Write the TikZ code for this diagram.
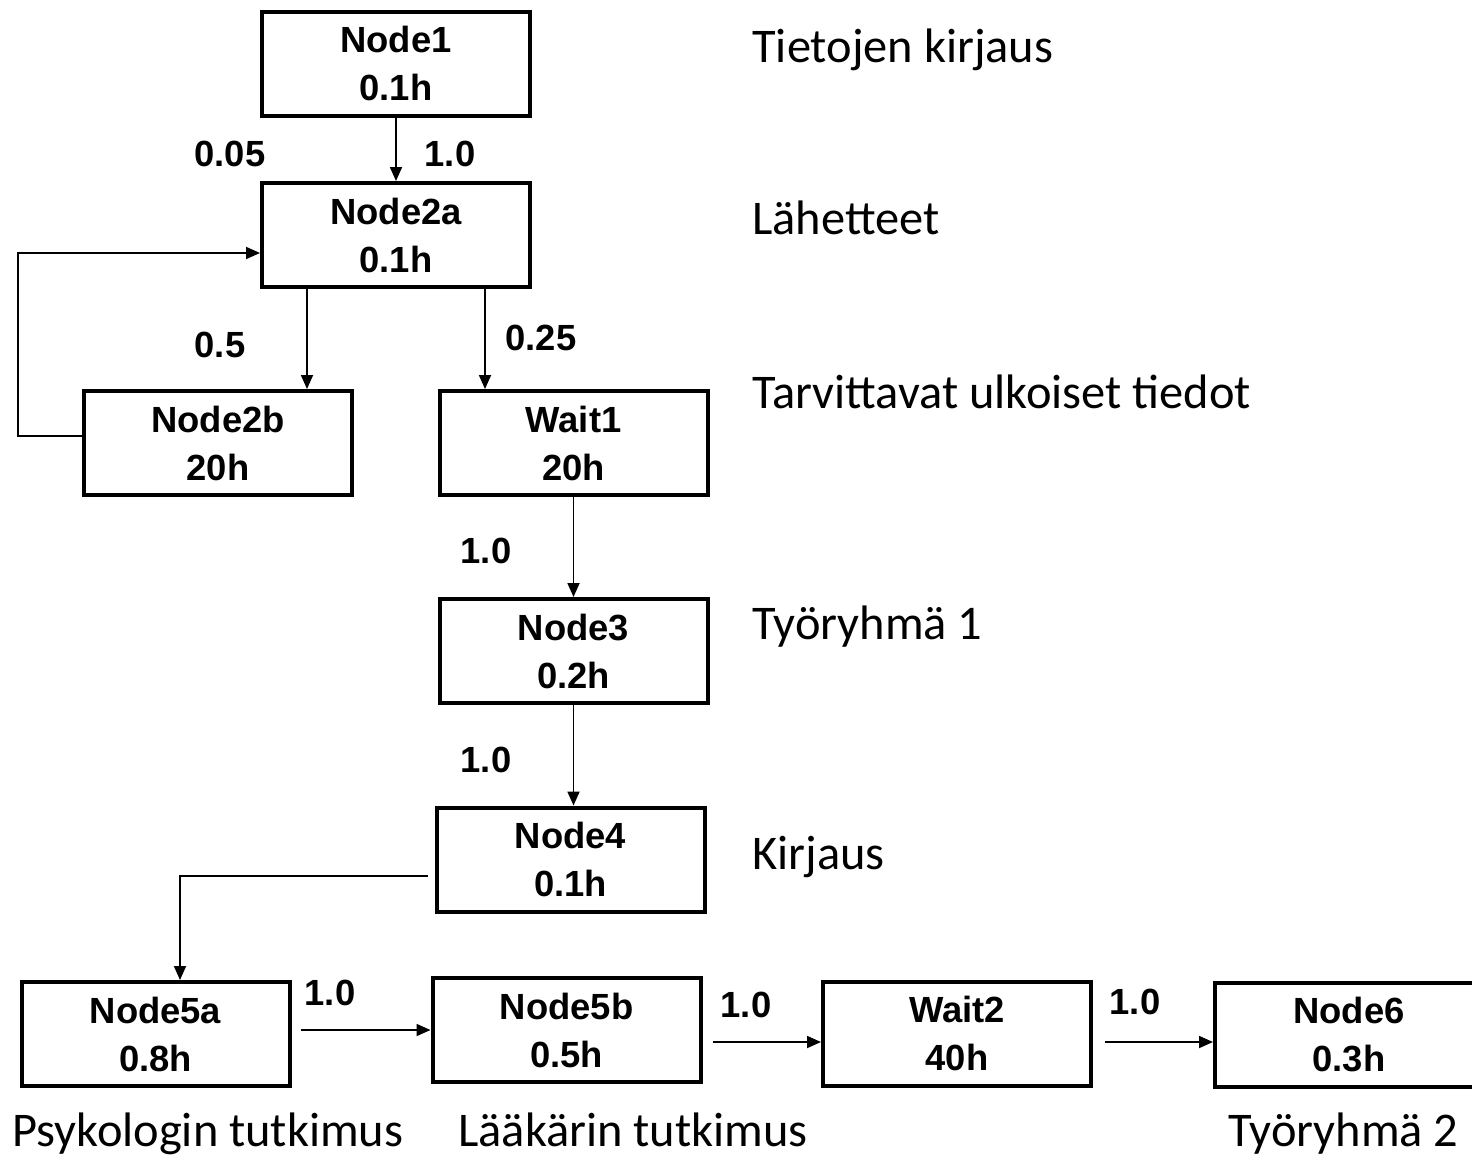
\documentclass[tikz,border=0pt]{standalone}
\usepackage{fontspec}
\setmainfont{Liberation Sans}
\newfontfamily\lblfont{Carlito}
\usetikzlibrary{arrows.meta,calc}
\begin{document}
\begin{tikzpicture}[x=0.5pt,y=-0.5pt,
  box/.style={draw,line width=2pt,minimum width=134pt,minimum height=52pt,inner sep=0pt,
    align=center,font=\fontsize{18.2}{24}\selectfont\bfseries},
  prob/.style={inner sep=0pt,font=\fontsize{18.2}{22}\selectfont\bfseries},
  side/.style={anchor=base west,inner sep=0pt,font=\fontsize{24.2}{28}\selectfont\lblfont},
  arr/.style={line width=0.9pt,-{Triangle[length=7pt,width=6pt]}},
  conn/.style={line width=0.9pt}]
\useasboundingbox (0,0) rectangle (1472,1157);
% boxes
\node[box] (n1)  at (396,63.5)   {Node1\\0.1h};
\node[box] (n2a) at (396,235)    {Node2a\\0.1h};
\node[box] (n2b) at (218,443)    {Node2b\\20h};
\node[box] (w1)  at (573.5,443)  {Wait1\\20h};
\node[box] (n3)  at (573.5,651)  {Node3\\0.2h};
\node[box] (n4)  at (570.5,859.5){Node4\\0.1h};
\node[box] (n5a) at (155.5,1034) {Node5a\\0.8h};
\node[box] (n5b) at (566.5,1030) {Node5b\\0.5h};
\node[box] (w2)  at (957,1033.5) {Wait2\\40h};
\node[box] (n6)  at (1349,1034.5){Node6\\0.3h};
% connectors
\draw[arr] (n1) -- (n2a);
\draw[arr] ([xshift=-44.5pt]n2a.south) -- ([xshift=-44.5pt]n2a.south |- n2b.north);
\draw[arr] ([xshift=44.5pt]n2a.south) -- ([xshift=44.5pt]n2a.south |- w1.north);
\draw[arr] ([xshift=2pt,yshift=3.5pt]n2b.west) -- ++(-34pt,0) |- ([yshift=-9pt]n2a.west);
\draw[arr] (w1) -- (n3);
\draw[arr] (n3.south) -- (n3.south |- n4.north);
\draw[arr] ([xshift=-3.5pt,yshift=-8.25pt]n4.west) -| ([xshift=12.25pt]n5a.north);
\draw[arr] ($(n5a.east |- n5b.west)+(4.5pt,0)$) -- (n5b.west);
\draw[arr] ($([yshift=-4.25pt]w2.west -| n5b.east)+(5pt,0)$) -- ([yshift=-4.25pt]w2.west);
\draw[arr] ($([yshift=-4.25pt]w2.east)+(6pt,0)$) -- ([yshift=-4.25pt]w2.east -| n6.west);
% probabilities
\node[prob] (p1) at (230,154) {0.05};
\node[prob] (p2) at (450,154) {1.0};
\node[prob] (p3) at (220,345) {0.5};
\node[prob] (p4) at (541,338) {0.25};
\node[prob] (p5) at (486,551) {1.0};
\node[prob] (p6) at (486,760) {1.0};
\node[prob] (p7) at (330,993) {1.0};
\node[prob] (p8) at (746,1005) {1.0};
\node[prob] (p9) at (1135,1002) {1.0};
% side labels
\node[side] (s1) at (752,62)  {Tietojen kirjaus};
\node[side] (s2) at (752,234) {Lähetteet};
\node[side] (s3) at (752,408) {Tarvittavat ulkoiset tiedot};
\node[side] (s4) at (752,639) {Työryhmä 1};
\node[side] (s5) at (752,869) {Kirjaus};
\node[side] (s6) at (12,1146)  {Psykologin tutkimus};
\node[side] (s7) at (458,1146) {Lääkärin tutkimus};
\node[side] (s8) at (1228,1146){Työryhmä 2};
\end{tikzpicture}
\end{document}
